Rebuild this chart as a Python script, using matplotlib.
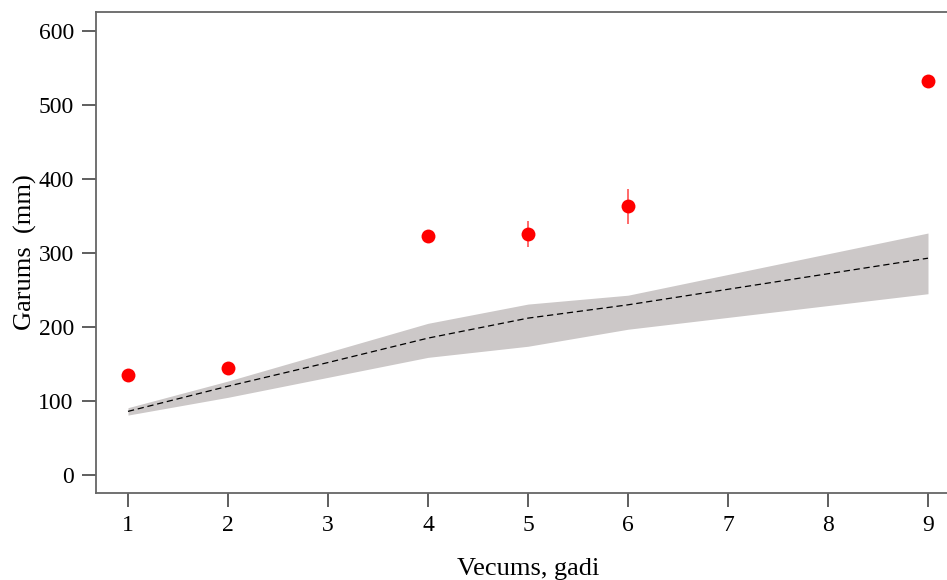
import matplotlib
matplotlib.use("Agg")
import matplotlib.pyplot as plt
import numpy as np

# Observed mean length by age, with spread
obs_age = [1, 2, 4, 5, 6, 9]
obs_len = [135, 145, 323, 326, 363, 532]
obs_lo = [133, 143, 321, 308, 339, 530]
obs_hi = [137, 147, 325, 343, 386, 534]

# Model growth curve with its uncertainty band
mod_age = [1, 2, 3, 4, 5, 6, 7, 8, 9]
mod_mid = [86, 120, 152, 185, 212, 230, 251, 272, 293]
mod_lo = [81, 105, 132, 159, 174, 197, 213, 229, 245]
mod_hi = [91, 127, 166, 205, 231, 243, 271, 299, 327]

x_ticks = [1, 2, 3, 4, 5, 6, 7, 8, 9]
y_ticks = [0, 100, 200, 300, 400, 500, 600]

plt.rcParams["font.family"] = ["Liberation Serif", "DejaVu Serif"]

fig = plt.figure(figsize=(9.47, 5.80), dpi=100)
ax = fig.add_axes([96 / 947, 1 - 493 / 580, 864 / 947, 481 / 580])

ax.fill_between(mod_age, mod_lo, mod_hi, color="#ccc8c8", linewidth=0, zorder=1)
ax.plot(mod_age, mod_mid, color="black", linestyle=(0, (5, 3)), linewidth=0.9, zorder=2)

obs_len_a = np.array(obs_len)
yerr = [obs_len_a - np.array(obs_lo), np.array(obs_hi) - obs_len_a]
ax.errorbar(obs_age, obs_len, yerr=yerr, fmt="none", ecolor="#ff5050",
            elinewidth=1.2, capsize=0, zorder=3)
ax.plot(obs_age, obs_len, "o", color="#ff0000", markersize=10, markeredgewidth=0, zorder=4)

ax.set_xlim(0.68, 9.32)
ax.set_ylim(-24.3, 625.7)
ax.set_xticks(x_ticks)
ax.set_yticks(y_ticks)
ax.tick_params(axis="both", direction="out", length=10, width=1.1, color="#333333",
               labelsize=17, pad=6)
for s in ax.spines.values():
    s.set_color("#666666")
    s.set_linewidth(1.3)

ax.set_xlabel("Vecums, gadi", fontsize=19, labelpad=16)
ax.set_ylabel("Garums  (mm)", fontsize=19, labelpad=1)

fig.savefig("out.png", dpi=100)
